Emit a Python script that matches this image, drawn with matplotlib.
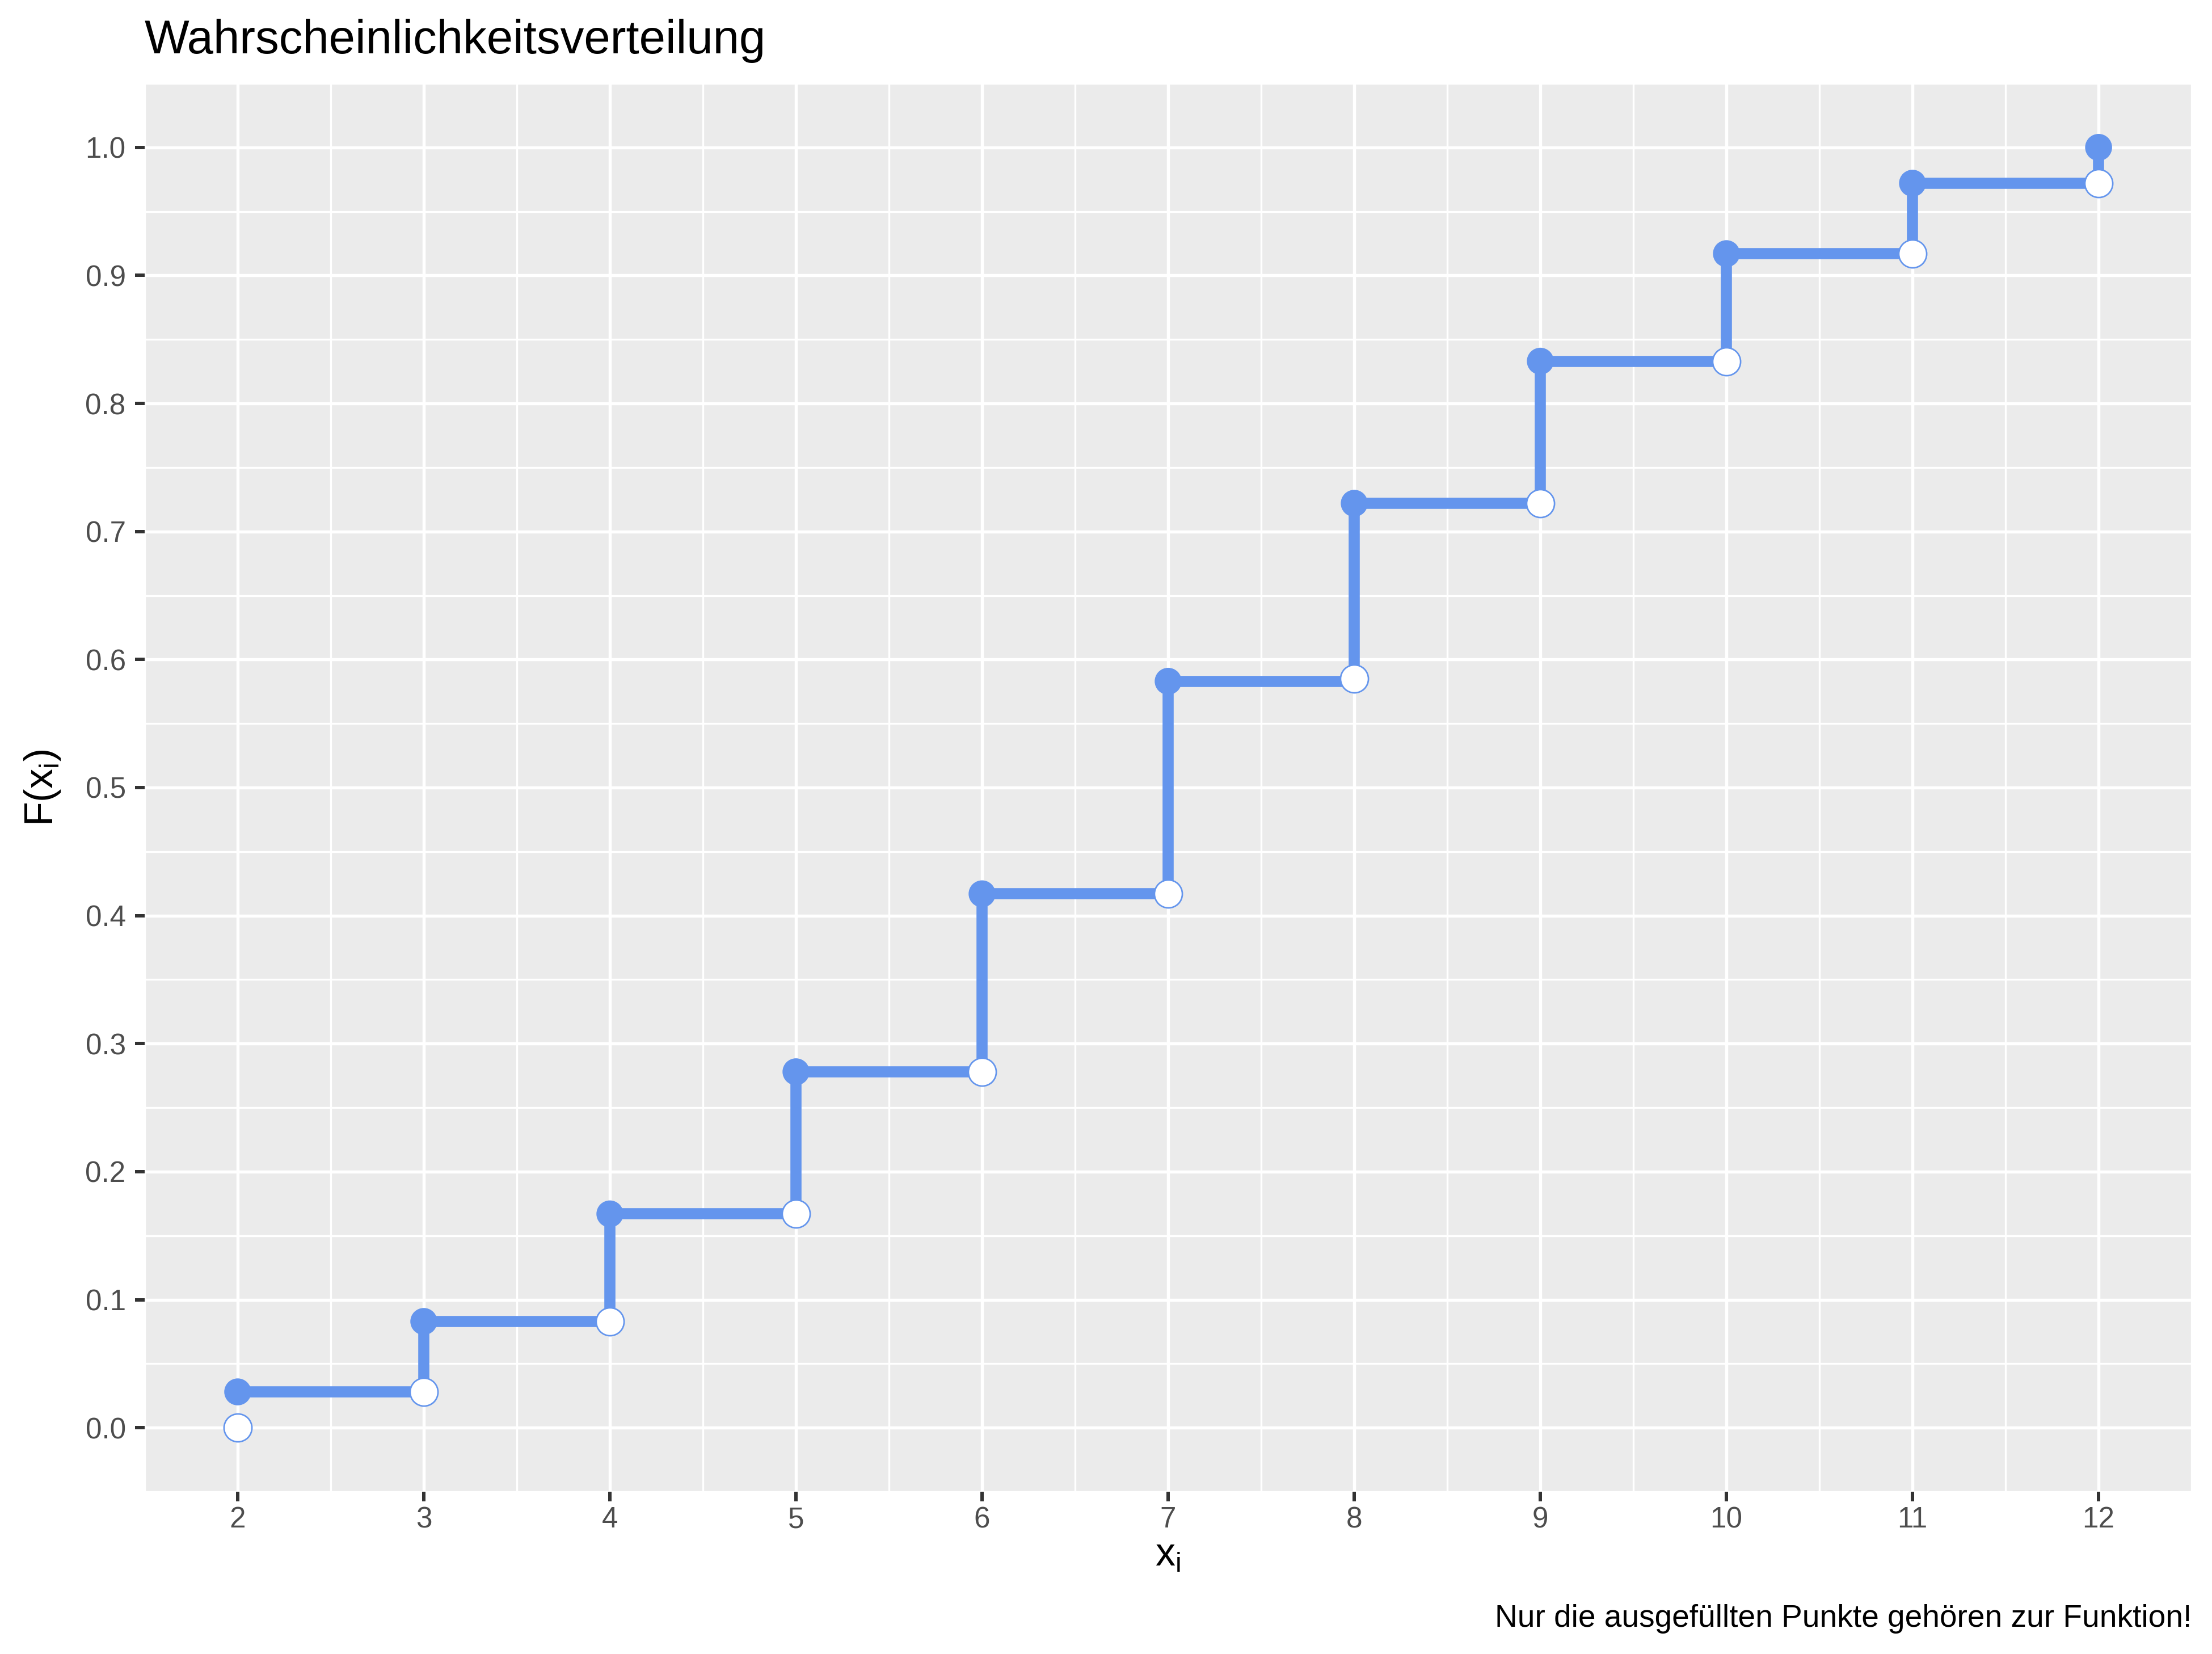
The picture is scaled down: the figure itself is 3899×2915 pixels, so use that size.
import matplotlib
matplotlib.use("Agg")
import matplotlib.pyplot as plt
from matplotlib.ticker import MultipleLocator

plt.rcParams["font.family"] = ["Liberation Sans", "DejaVu Sans"]
plt.rcParams["mathtext.fontset"] = "custom"
plt.rcParams["mathtext.rm"] = "Liberation Sans"
plt.rcParams["mathtext.it"] = "Liberation Sans"

# Werte (Augensumme zweier Wuerfel, Verteilungsfunktion)
x_vals = [2, 3, 4, 5, 6, 7, 8, 9, 10, 11, 12]
F_filled = [0.028, 0.083, 0.167, 0.278, 0.417, 0.583, 0.722, 0.833, 0.917, 0.972, 1.000]
F_open = [0.000, 0.028, 0.083, 0.167, 0.278, 0.417, 0.585, 0.722, 0.833, 0.917, 0.972]

blue = "#6495ED"

L, R, T, B = 0.0654, 0.9908, 0.9496, 0.0981

fig = plt.figure(figsize=(3899 / 300, 2915 / 300), dpi=300)
ax = fig.add_axes([L, B, R - L, T - B])
ax.set_facecolor("#EBEBEB")
for s in ax.spines.values():
    s.set_visible(False)

# Treppen: waagerecht und senkrecht
for i in range(len(x_vals) - 1):
    ax.plot([x_vals[i], x_vals[i + 1]], [F_filled[i], F_filled[i]],
            color=blue, lw=4.7, solid_capstyle="butt", zorder=3)
for i in range(1, len(x_vals)):
    ax.plot([x_vals[i], x_vals[i]], [F_open[i], F_filled[i]],
            color=blue, lw=4.7, solid_capstyle="butt", zorder=3)

ax.scatter(x_vals, F_filled, s=11.4 ** 2, color=blue, edgecolors="none", zorder=4)
ax.scatter(x_vals, F_open, s=11.8 ** 2, facecolors="white", edgecolors=blue,
           linewidths=0.65, zorder=5)

ax.set_xlim(1.5, 12.5)
ax.set_ylim(-0.05, 1.05)
ax.set_xticks(x_vals)
ax.set_yticks([i / 10 for i in range(11)])
ax.set_yticklabels([f"{i / 10:.1f}" for i in range(11)])
ax.xaxis.set_minor_locator(MultipleLocator(0.5))
ax.yaxis.set_minor_locator(MultipleLocator(0.05))
ax.grid(which="major", color="white", lw=1.3)
ax.grid(which="minor", color="white", lw=0.8)
ax.set_axisbelow(True)
ax.tick_params(which="major", length=4, width=1.44, color="#333333",
               labelcolor="#4D4D4D", labelsize=12.3)
ax.tick_params(axis="x", pad=2)
ax.tick_params(axis="y", pad=4)
ax.tick_params(which="minor", length=0)

fig.text(L, 0.9676, "Wahrscheinlichkeitsverteilung", fontsize=20,
         ha="left", va="baseline")
fig.text(R, 0.0165, "Nur die ausgefüllten Punkte gehören zur Funktion!",
         fontsize=13.2, ha="right", va="baseline")
fig.text((L + R) / 2, 0.0532, r"$\mathregular{x_i}$", fontsize=16.8,
         ha="center", va="baseline")
fig.text(0.0192, (B + T) / 2, r"$\mathregular{F(x_i)}$", fontsize=16.8,
         ha="center", va="center", rotation=90)

fig.savefig("out.png", dpi=300)
